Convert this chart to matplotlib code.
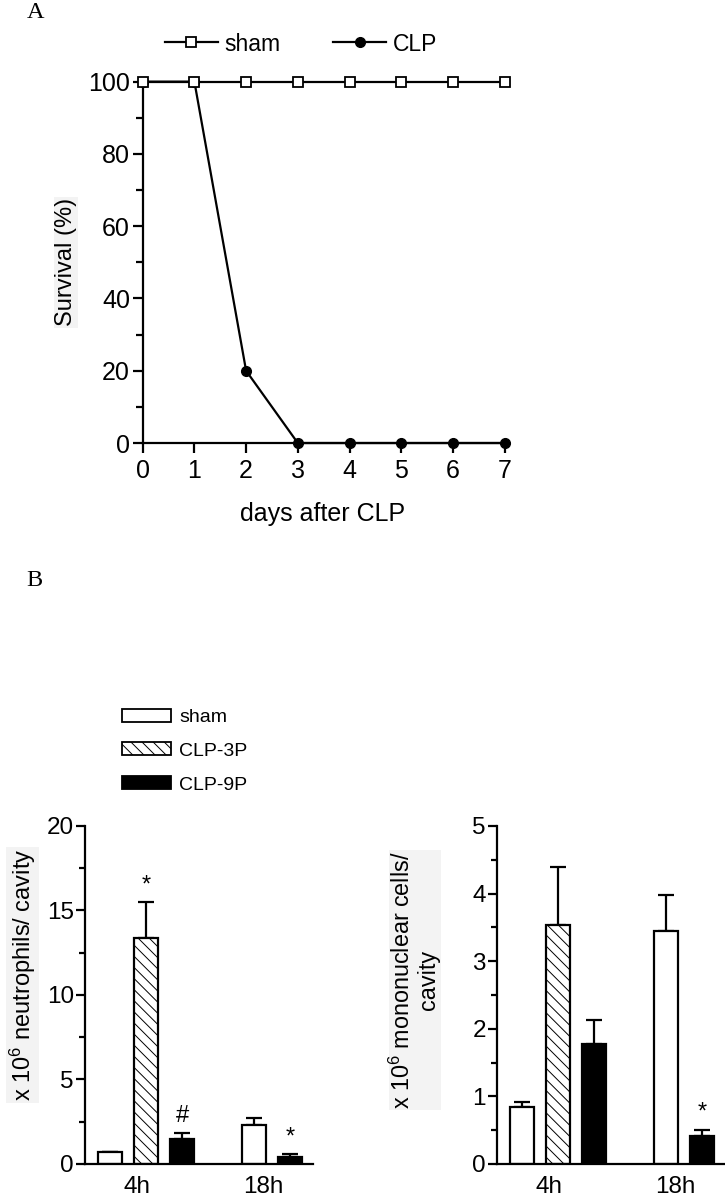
import numpy as np
import matplotlib
matplotlib.use("Agg")
import matplotlib.pyplot as plt
from matplotlib.ticker import MultipleLocator
from matplotlib.patches import Patch

plt.rcParams['font.family'] = ['Liberation Sans', 'DejaVu Sans']
plt.rcParams['mathtext.fontset'] = 'custom'
plt.rcParams['mathtext.rm'] = 'Liberation Sans'
plt.rcParams['mathtext.it'] = 'Liberation Sans:italic'
plt.rcParams['hatch.color'] = '#666666'
plt.rcParams['hatch.linewidth'] = 0.7

# ---------------- data ----------------
days = [0, 1, 2, 3, 4, 5, 6, 7]
survival_sham = [100, 100, 100, 100, 100, 100, 100, 100]
survival_clp = [100, 100, 20, 0, 0, 0, 0, 0]

groups = ['4h', '18h']
series = ['sham', 'CLP-3P', 'CLP-9P']

neut_mean = {'sham': [0.7, 2.3], 'CLP-3P': [13.4, np.nan], 'CLP-9P': [1.48, 0.43]}
neut_err = {'sham': [0.0, 0.4], 'CLP-3P': [2.1, np.nan], 'CLP-9P': [0.37, 0.14]}
neut_marks = [('4h', 'CLP-3P', '*'), ('4h', 'CLP-9P', '#'), ('18h', 'CLP-9P', '*')]

mono_mean = {'sham': [0.84, 3.45], 'CLP-3P': [3.53, np.nan], 'CLP-9P': [1.78, 0.41]}
mono_err = {'sham': [0.07, 0.53], 'CLP-3P': [0.87, np.nan], 'CLP-9P': [0.35, 0.10]}
mono_marks = [('18h', 'CLP-9P', '*')]

# ---------------- styles ----------------
styles = {
    'sham': dict(facecolor='white', edgecolor='black', hatch=None),
    'CLP-3P': dict(facecolor='white', edgecolor='black', hatch='\\\\\\'),
    'CLP-9P': dict(facecolor='black', edgecolor='black', hatch=None),
}
LABEL_BG = dict(facecolor='#f3f3f3', edgecolor='none', pad=1)

fig = plt.figure(figsize=(7.25, 11.99), dpi=100)

# ---------------- panel A ----------------
axA = fig.add_axes([0.1968, 0.6305, 0.4993, 0.3014])
l_clp, = axA.plot(days, survival_clp, '-o', color='black', mfc='black', ms=7,
                  lw=1.6, clip_on=False, zorder=3, label='CLP')
l_sham, = axA.plot(days, survival_sham, '-s', color='black', mfc='white', ms=7.5,
                   mew=1.3, lw=1.6, clip_on=False, zorder=4, label='sham')
axA.set_xlim(0, 7)
axA.set_ylim(0, 100)
axA.set_xticks(days)
axA.yaxis.set_major_locator(MultipleLocator(20))
axA.yaxis.set_minor_locator(MultipleLocator(10))
for s in ['top', 'right']:
    axA.spines[s].set_visible(False)
for s in ['left', 'bottom']:
    axA.spines[s].set_linewidth(1.6)
axA.tick_params(axis='both', which='major', labelsize=18, width=1.6, length=7.2)
axA.tick_params(axis='x', which='major', pad=4)
axA.tick_params(axis='y', which='major', pad=2)
axA.tick_params(axis='y', which='minor', width=1.6, length=5)
axA.set_ylabel('Survival (%)', fontsize=17, bbox=LABEL_BG)
axA.yaxis.label.set_va('center')
axA.yaxis.set_label_coords(-0.212, 0.5)
axA.set_xlabel('days after CLP', fontsize=18)
axA.xaxis.label.set_va('center')
axA.xaxis.set_label_coords(0.497, -0.1965)
fig.legend([l_sham, l_clp], ['sham', 'CLP'], ncol=2, frameon=False, fontsize=16.5,
           loc='center left', bbox_to_anchor=(0.2276, 0.9633), borderpad=0,
           borderaxespad=0, handlelength=2.3, handletextpad=0.3, columnspacing=2.3)

fig.text(27 / 725, 1 - 2 / 1199, 'A', family='Liberation Serif', fontsize=17.5,
         ha='left', va='top')
fig.text(26 / 725, 1 - 570 / 1199, 'B', family='Liberation Serif', fontsize=17.5,
         ha='left', va='top')

# ---------------- panel B ----------------
bar_w = 1.0
step = 1.5
group_start = [0.0, 6.0]


def bar_panel(ax, means, errs, marks, ylim, major, minor):
    pos = {}
    for gi, g in enumerate(groups):
        k = 0
        for s in series:
            v = means[s][gi]
            if np.isnan(v):
                continue
            x = group_start[gi] + k * step
            pos[(g, s)] = (x, v + errs[s][gi])
            st = styles[s]
            ax.bar(x, v, width=bar_w, facecolor=st['facecolor'], edgecolor=st['edgecolor'],
                   hatch=st['hatch'], linewidth=1.6, zorder=2)
            ax.errorbar(x, v, yerr=[[0], [errs[s][gi]]], fmt='none', ecolor='black',
                        elinewidth=1.6, capsize=6, capthick=1.6, zorder=1)
            k += 1
    for g, s, t in marks:
        x, top = pos[(g, s)]
        ax.annotate(t, (x, top), xytext=(0, 12), textcoords='offset points',
                    ha='center', va='center', fontsize=17)
    centers = []
    for gi, g in enumerate(groups):
        n = sum(1 for s in series if not np.isnan(means[s][gi]))
        centers.append(group_start[gi] + (n - 1) * step / 2 - 0.4)
    ax.set_xticks(centers)
    ax.set_xticklabels(groups)
    ax.set_xlim(-1.06, 8.44)
    ax.set_ylim(*ylim)
    ax.yaxis.set_major_locator(MultipleLocator(major))
    ax.yaxis.set_minor_locator(MultipleLocator(minor))
    for s in ['top', 'right']:
        ax.spines[s].set_visible(False)
    for s in ['left', 'bottom']:
        ax.spines[s].set_linewidth(1.6)
    ax.tick_params(axis='y', which='major', labelsize=17.5, width=1.6, length=6.5, pad=1.5)
    ax.tick_params(axis='y', which='minor', width=1.6, length=4)
    ax.tick_params(axis='x', which='major', labelsize=17.5, length=0, pad=9)


axL = fig.add_axes([0.1172, 0.0292, 0.3145, 0.2819])
bar_panel(axL, neut_mean, neut_err, neut_marks, (0, 20), 5, 2.5)
axL.set_ylabel('x 10$^6$ neutrophils/ cavity', fontsize=17, bbox=LABEL_BG)
axL.yaxis.label.set_va('center')
axL.yaxis.set_label_coords(-0.272, 0.559)

axR = fig.add_axes([0.6855, 0.0292, 0.3145, 0.2819])
bar_panel(axR, mono_mean, mono_err, mono_marks, (0, 5), 1, 0.5)
axR.set_ylabel('x 10$^6$ mononuclear cells/\ncavity', fontsize=16.8, multialignment='center',
               linespacing=1.1, bbox=LABEL_BG)
axR.yaxis.label.set_va('center')
axR.yaxis.set_label_coords(-0.36, 0.544)

handles = [Patch(facecolor=styles[s]['facecolor'], edgecolor=styles[s]['edgecolor'],
                 hatch=styles[s]['hatch'], linewidth=1.3) for s in series]
fig.legend(handles, series, frameon=False, fontsize=14, loc='upper left',
           bbox_to_anchor=(0.1683, 0.4090), borderpad=0, borderaxespad=0,
           handlelength=2.5, handleheight=0.65, handletextpad=0.45, labelspacing=0.85)

fig.savefig('out.png', dpi=100)
